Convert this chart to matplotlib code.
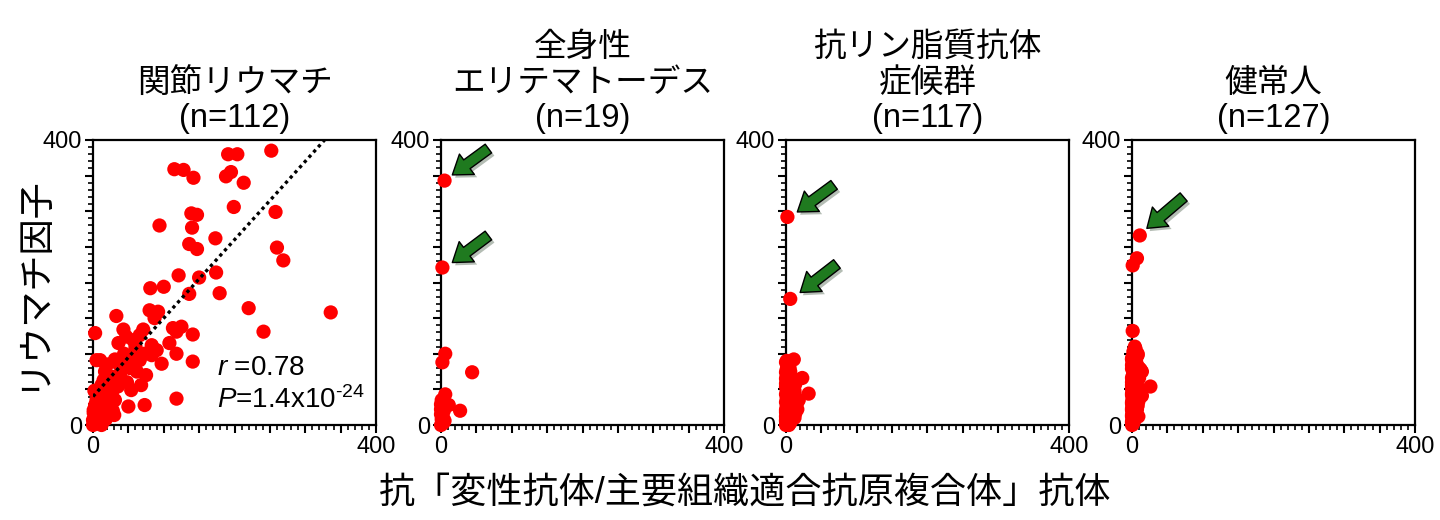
import matplotlib
matplotlib.use('Agg')
import matplotlib.pyplot as plt
from matplotlib.ticker import MultipleLocator, FuncFormatter
import matplotlib.patheffects as pe

plt.rcParams['font.family'] = ['Liberation Sans', 'Noto Sans CJK JP', 'DejaVu Sans']
plt.rcParams['mathtext.fontset'] = 'custom'
plt.rcParams['mathtext.rm'] = 'Liberation Sans'
plt.rcParams['mathtext.it'] = 'Liberation Sans:italic'

# ---- data ----
titles = ['関節リウマチ\n(n=112)', '全身性\nエリテマトーデス\n(n=19)',
          '抗リン脂質抗体\n症候群\n(n=117)', '健常人\n(n=127)']

# (x, y) pairs per group
ra_pts = [(252,385),(191,380),(204,380),(115,359),(128,358),(142,347),(188,349),(195,355),(213,340),(199,306),
          (258,299),(139,297),(147,295),(94,280),(140,277),(173,262),(136,254),(147,247),(260,249),(269,231),
          (121,210),(150,207),(174,214),(179,185),(136,184),(81,192),(100,194),(220,164),(336,158),(241,131),
          (80,161),(92,159),(87,150),(33,153),(3,129),(43,134),(47,124),(66,126),(71,134),(113,136),
          (125,138),(118,131),(141,127),(36,115),(57,119),(61,105),(83,112),(108,115),(5,91),(10,91),
          (31,92),(73,100),(66,91),(83,98),(118,100),(97,86),(141,89),(50,87),(52,80),(57,91),
          (17,75),(15,63),(12,56),(24,65),(40,77),(33,58),(54,49),(68,56),(118,37),(50,26),
          (73,28),(5,35),(1,21),(10,21),(22,30),(19,26),(0,7),(5,12),(1,17),(15,40),
          (28,49),(24,40),(31,35),(35,54),(26,68),(38,70),(2,3),(8,5),(12,14),(3,28),
          (7,45),(14,10),(20,18),(0,0),(4,2),(9,30),(16,50),(28,20),(35,87),(44,100),
          (60,110),(42,92),(20,85),(75,70),(90,105),(62,75),(48,60),(12,0),(6,24),(18,8),
          (2,48),(30,14)]

sle_pts = [(5,343),(2,221),(6,100),(2,88),(44,74),(6,43),(0,29),(11,28),(4,20),(27,20),
           (1,8),(4,4),(0,15),(2,2),(0,0),(3,10),(1,35),(0,22),(5,6)]

aps_pts = [(2,292),(6,177),(11,92),(4,86),(4,72),(23,66),(32,44),(0,58),(15,29),(18,35),
           (12,10),(8,20),(0,0),(1,2),(2,4),(0,5),(3,6),(1,8),(4,9),(2,11),
           (0,12),(5,13),(3,15),(1,16),(6,17),(2,19),(4,20),(0,21),(7,22),(3,24),
           (5,25),(1,26),(8,27),(2,28),(6,29),(4,31),(0,32),(9,33),(3,34),(7,35),
           (5,36),(1,37),(10,38),(2,39),(6,40),(4,41),(8,42),(0,43),(12,44),(3,45),
           (5,46),(7,47),(1,48),(9,49),(2,50),(11,51),(4,52),(6,53),(0,54),(8,55),
           (3,56),(13,57),(5,58),(1,59),(7,60),(2,61),(10,62),(4,63),(6,64),(0,65),
           (3,66),(8,67),(1,68),(5,69),(2,70),(4,72),(0,74),(6,75),(3,76),(1,78),
           (5,80),(2,82),(7,14),(9,18),(11,24),(14,30),(16,22),(13,16),(10,12),(12,48),
           (8,52),(6,3),(3,1),(1,3),(0,7),(2,84),(4,77),(9,30),(7,26),(5,44),
           (11,39),(3,10),(0,18),(1,23),(2,71),(6,62),(8,56),(10,46),(14,37),(4,57),
           (2,64),(0,88),(1,90),(3,60),(5,33),(2,27),(4,0)]

hc_pts = [(11,266),(7,234),(1,224),(1,132),(2,103),(0,93),(14,75),(26,54),(14,41),(4,110),
          (8,100),(6,88),(0,0),(1,2),(2,4),(0,5),(3,6),(1,8),(4,9),(2,11),
          (0,12),(5,13),(3,15),(1,16),(6,17),(2,19),(4,20),(0,21),(7,22),(3,24),
          (5,25),(1,26),(8,27),(2,28),(6,29),(4,31),(0,32),(9,33),(3,34),(7,35),
          (5,36),(1,37),(2,38),(6,39),(4,40),(8,41),(0,42),(3,43),(5,44),(7,45),
          (1,46),(9,47),(2,48),(4,49),(6,50),(0,51),(8,52),(3,53),(5,54),(1,55),
          (7,56),(2,57),(4,58),(6,59),(0,60),(3,61),(1,62),(5,63),(2,64),(4,65),
          (0,66),(6,67),(3,68),(1,69),(5,70),(2,72),(7,74),(9,75),(11,76),(12,78),
          (10,80),(8,82),(6,14),(3,18),(1,24),(0,30),(2,22),(4,16),(9,12),(7,48),
          (5,52),(3,60),(0,84),(1,86),(2,90),(6,95),(8,98),(10,66),(4,71),(2,77),
          (0,92),(1,96),(3,104),(5,107),(0,3),(2,7),(4,10),(1,1),(3,18),(0,23),
          (2,28),(1,36),(0,44),(3,52),(2,58),(1,64),(4,70),(0,79),(2,85),(1,20),
          (0,14),(3,38),(2,46),(1,30),(0,56),(2,40),(1,50)]

groups = [ra_pts, sle_pts, aps_pts, hc_pts]

# regression line of the first panel
fit_slope = 1.1
fit_intercept = 40

# arrows: (panel, tip_x, tip_y, tail_x, tail_y)
arrows = [(1, 16, 351, 67, 388), (1, 16, 228, 67, 266),
          (2, 16, 299, 68, 337), (2, 20, 186, 72, 226),
          (3, 21, 276, 73, 320)]

axis_max = 400

fig = plt.figure(figsize=(14.4, 5.2), dpi=100)
lefts = [93, 441, 786, 1132]
axes = []
for i in range(4):
    ax = fig.add_axes([lefts[i] / 1440, 95 / 520, 283 / 1440, 285 / 520])
    axes.append(ax)
    xs = [p[0] for p in groups[i]]
    ys = [p[1] for p in groups[i]]
    ax.scatter(xs, ys, s=105, c='#ff0000', edgecolors='none', clip_on=False, zorder=3)
    ax.set_xlim(0, axis_max)
    ax.set_ylim(0, axis_max)
    ax.xaxis.set_major_locator(MultipleLocator(50))
    ax.yaxis.set_major_locator(MultipleLocator(50))
    ax.xaxis.set_minor_locator(MultipleLocator(10))
    ax.yaxis.set_minor_locator(MultipleLocator(10))
    fmt = FuncFormatter(lambda v, p: '%d' % v if v in (0, axis_max) else '')
    ax.xaxis.set_major_formatter(fmt)
    ax.yaxis.set_major_formatter(fmt)
    ax.tick_params(which='major', direction='out', length=6, width=1.5, labelsize=17, pad=2)
    ax.tick_params(which='minor', direction='out', length=3.5, width=1.2)
    for sp in ax.spines.values():
        sp.set_linewidth(1.6)
    ax.set_title(titles[i], fontsize=23.5, pad=9, linespacing=1.2)

# dotted fit line
ax = axes[0]
x_end = (axis_max - fit_intercept) / fit_slope
ax.plot([0, x_end], [fit_intercept, fit_intercept + fit_slope * x_end], color='black',
        linestyle=(0, (1, 1.1)), linewidth=2.4, zorder=4)
ax.text(175, 80, r'$\it{r}$ =0.78', fontsize=20, va='center', ha='left', zorder=5)
ax.text(175, 35, r'$\it{P}$=1.4x10$^{\text{-24}}$', fontsize=20, va='center', ha='left', zorder=5)

for k, tx, ty, sx, sy in arrows:
    axes[k].annotate('', xy=(tx, ty), xytext=(sx, sy),
                     arrowprops=dict(arrowstyle='simple,head_length=1.0,head_width=1.4,tail_width=0.6',
                                     mutation_scale=13, fc='#1f7a1f', ec='black', lw=1,
                                     shrinkA=0, shrinkB=0,
                                     path_effects=[pe.SimplePatchShadow(offset=(2, -2), alpha=0.3), pe.Normal()]),
                     zorder=6)

fig.text(33 / 1440, 1 - 283 / 520, 'リウマチ因子', rotation=90, fontsize=26, ha='center', va='center')
fig.text(745 / 1440, 1 - 493 / 520, '抗「変性抗体/主要組織適合抗原複合体」抗体', fontsize=26,
         ha='center', va='center')

fig.savefig('out.png', dpi=100)
